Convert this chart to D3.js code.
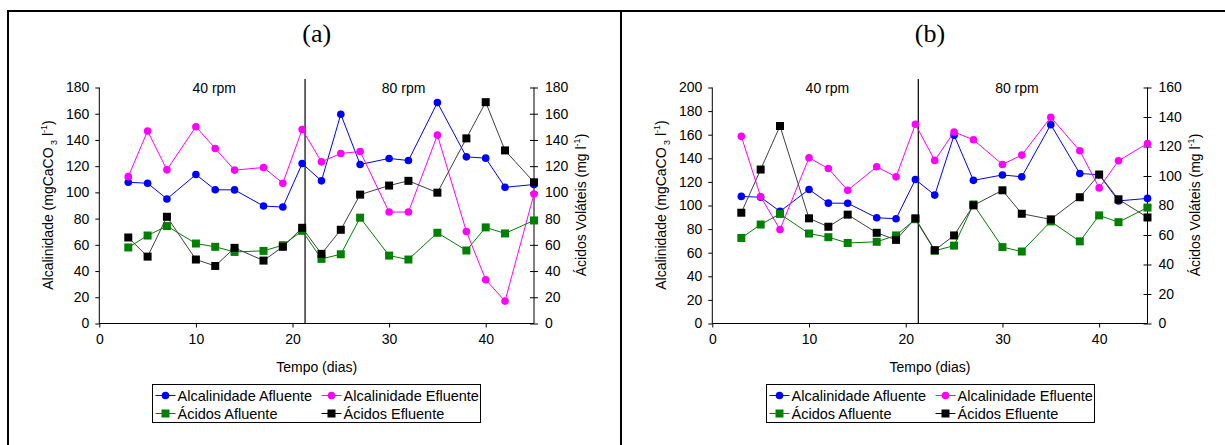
<!DOCTYPE html>
<html>
<head>
<meta charset="utf-8">
<script src="https://cdn.jsdelivr.net/npm/d3@7"></script>
<style>
  body { margin: 0; background: #fff; }
  svg { display: block; font-family: "Liberation Sans", Arial, sans-serif; }
</style>
</head>
<body>
<svg id="chart" width="1225" height="445"></svg>
<script>
// days of sampling
const days = [3, 5, 7, 10, 12, 14, 17, 19, 21, 23, 25, 27, 30, 32, 35, 38, 40, 42, 45]

// influent series, same in both panels
const alcAfluente = [107.7, 107, 95, 113.6, 102, 101.9, 89.6, 88.8, 122, 108.8, 159.6, 121.3, 125.9, 124.3, 168.5, 127.1, 126.1, 103.9, 106]
const acAfluente = [58, 67.1, 74.3, 61, 58.5, 54.6, 55.4, 59.7, 70.7, 49.3, 52.8, 80.7, 51.8, 48.8, 69.2, 55.7, 73.3, 68.7, 78.6]

// effluent series, panel (a)
const alcEfluenteA = [112, 146.8, 117.2, 150.1, 133.5, 117, 119, 107, 148, 123.3, 129.7, 131.2, 85, 85, 143.7, 70.2, 33.4, 17.1, 98.8]
const acEfluenteA = [65.6, 51, 81.4, 48.8, 43.9, 57.7, 48, 58.5, 73, 53.1, 71.5, 98.3, 105.2, 108.8, 99.8, 141.2, 168.8, 132, 107.7]

// effluent series, panel (b)
const alcEfluenteB = [158.6, 107.5, 79.7, 140.4, 131.3, 112.9, 132.8, 124.3, 168.8, 138.2, 162.3, 155.7, 134.8, 142.7, 174.8, 146.4, 114.9, 137.9, 152.6]
const acEfluenteB = [75.1, 104.4, 133.9, 71.3, 65.6, 73.8, 61.5, 56.7, 71.3, 49.7, 59.7, 80.1, 90.3, 74.4, 70.6, 85.6, 101, 84.2, 71.9]

const leftTicksA = [0, 20, 40, 60, 80, 100, 120, 140, 160, 180]
const rightTicksA = [0, 20, 40, 60, 80, 100, 120, 140, 160, 180]
const leftTicksB = [0, 20, 40, 60, 80, 100, 120, 140, 160, 180, 200]
const rightTicksB = [0, 20, 40, 60, 80, 100, 120, 140, 160]
const xTicks = [0, 10, 20, 30, 40]

const phaseChange = 21.3
const legendNames = ["Alcalinidade Afluente", "Alcalinidade Efluente", "Ácidos Afluente", "Ácidos Efluente"]

const svg = d3.select("#chart")

// outer frame (table borders)
svg.append("line").attr("x1", 8).attr("x2", 1225).attr("y1", 11).attr("y2", 11)
  .attr("stroke", "#000").attr("stroke-width", 2)
svg.append("line").attr("x1", 8).attr("x2", 8).attr("y1", 10).attr("y2", 445)
  .attr("stroke", "#000").attr("stroke-width", 2)
svg.append("line").attr("x1", 621).attr("x2", 621).attr("y1", 10).attr("y2", 445)
  .attr("stroke", "#000").attr("stroke-width", 2)

function panel(opts) {
  const g = svg.append("g")
  const x = d3.scaleLinear().domain([0, 45]).range([opts.left, opts.right])
  const yL = d3.scaleLinear().domain([0, opts.leftMax]).range([323.5, 87.5])
  const yR = d3.scaleLinear().domain([0, opts.rightMax]).range([323.5, 87.5])

  g.append("text")
    .attr("x", (opts.left + opts.right) / 2).attr("y", 42)
    .attr("text-anchor", "middle")
    .style("font-family", "'Liberation Serif', 'Times New Roman', serif")
    .style("font-size", "26px")
    .text(opts.title)

  // axes
  const xAxis = g.append("g").attr("transform", "translate(0,323.5)")
    .call(d3.axisBottom(x).tickValues(xTicks).tickSize(4).tickPadding(7))
  const lAxis = g.append("g").attr("transform", `translate(${opts.left},0)`)
    .call(d3.axisLeft(yL).tickValues(opts.leftTicks).tickSize(4).tickPadding(6))
  const rAxis = g.append("g").attr("transform", `translate(${opts.right},0)`)
    .call(d3.axisRight(yR).tickValues(opts.rightTicks).tickSize(4).tickPadding(7))
  rAxis.selectAll(".tick line").attr("x1", -4)
  for (const a of [xAxis, lAxis, rAxis]) {
    a.selectAll("text").style("font-size", "14px").attr("fill", "#000")
      .style("font-family", "'Liberation Sans', Arial, sans-serif")
    a.selectAll("line, path").attr("stroke", "#000")
  }
  xAxis.select(".domain").attr("d", `M${opts.left},0H${opts.right}`)
  lAxis.select(".domain").attr("d", `M0,${yL(0)}V${yL(opts.leftMax)}`)
  rAxis.select(".domain").attr("d", `M0,${yR(0)}V${yR(opts.rightMax)}`)

  // phase separator
  g.append("line")
    .attr("x1", x(phaseChange)).attr("x2", x(phaseChange))
    .attr("y1", 79).attr("y2", 323.5)
    .attr("stroke", "#000").attr("stroke-width", 1.2)

  g.append("text").attr("x", x(opts.rpm1)).attr("y", 93)
    .attr("text-anchor", "middle").style("font-size", "14px").text("40 rpm")
  g.append("text").attr("x", x(opts.rpm2)).attr("y", 93)
    .attr("text-anchor", "middle").style("font-size", "14px").text("80 rpm")

  // axis titles
  g.append("text").attr("x", (opts.left + opts.right) / 2).attr("y", 372)
    .attr("text-anchor", "middle").style("font-size", "14px").text("Tempo (dias)")

  const lt = g.append("text")
    .attr("transform", `translate(${opts.left - 46},205) rotate(-90)`)
    .attr("text-anchor", "middle").style("font-size", "14px")
  lt.append("tspan").text("Alcalinidade (mgCaCO")
  lt.append("tspan").attr("dy", 4).style("font-size", "9px").text(" 3")
  lt.append("tspan").attr("dy", -4).text("   l")
  lt.append("tspan").attr("dy", -6).style("font-size", "9px").text("-1")
  lt.append("tspan").attr("dy", 6).text(")")

  const rt = g.append("text")
    .attr("transform", `translate(${opts.right + 52},205) rotate(-90)`)
    .attr("text-anchor", "middle").style("font-size", "14px")
  rt.append("tspan").text("Ácidos Voláteis (mg l")
  rt.append("tspan").attr("dy", -6).style("font-size", "9px").text("-1")
  rt.append("tspan").attr("dy", 6).text(")")

  const series = [
    { vals: alcAfluente, y: yL, color: "#0000ff", line: "#0000ff", shape: "circle" },
    { vals: opts.alcEfl, y: yL, color: "#ff00ff", line: "#ff00ff", shape: "circle" },
    { vals: acAfluente, y: yR, color: "#008000", line: "#008000", shape: "square" },
    { vals: opts.acEfl, y: yR, color: "#000000", line: "#404040", shape: "square" }
  ]

  for (const s of series) {
    const pts = days.map((d, i) => [d, s.vals[i]])
    g.append("path")
      .attr("d", d3.line().x(p => x(p[0])).y(p => s.y(p[1]))(pts))
      .attr("fill", "none").attr("stroke", s.line).attr("stroke-width", 1)
    drawMarkers(g, pts.map(p => [x(p[0]), s.y(p[1])]), s)
  }

  // legend
  const lg = g.append("g").attr("transform", `translate(${opts.legendX},384.5)`)
  lg.append("rect").attr("width", 328).attr("height", 38)
    .attr("fill", "#fff").attr("stroke", "#000").attr("stroke-width", 1)
  series.forEach((s, i) => {
    const cx = (i % 2) * 166
    const cy = 11 + Math.floor(i / 2) * 18
    lg.append("line").attr("x1", cx + 3).attr("x2", cx + 23).attr("y1", cy).attr("y2", cy)
      .attr("stroke", s.color).attr("stroke-width", 1)
    drawMarkers(lg, [[cx + 13, cy]], s)
    lg.append("text").attr("x", cx + 25).attr("y", cy + 5)
      .style("font-size", "14.5px").text(legendNames[i])
  })
}

function drawMarkers(g, pts, s) {
  if (s.shape === "circle") {
    g.selectAll(null).data(pts).join("circle")
      .attr("cx", p => p[0]).attr("cy", p => p[1]).attr("r", 3.8)
      .attr("fill", s.color)
  } else {
    g.selectAll(null).data(pts).join("rect")
      .attr("x", p => p[0] - 4).attr("y", p => p[1] - 4)
      .attr("width", 8).attr("height", 8)
      .attr("fill", s.color)
  }
}

panel({
  title: "(a)", left: 99.3, right: 534, leftMax: 180, rightMax: 180,
  leftTicks: leftTicksA, rightTicks: rightTicksA,
  alcEfl: alcEfluenteA, acEfl: acEfluenteA,
  rpm1: 11.9, rpm2: 31.5, legendX: 152.5
})
panel({
  title: "(b)", left: 712.3, right: 1147.5, leftMax: 200, rightMax: 160,
  leftTicks: leftTicksB, rightTicks: rightTicksB,
  alcEfl: alcEfluenteB, acEfl: acEfluenteB,
  rpm1: 11.9, rpm2: 31.5, legendX: 766.5
})
</script>
</body>
</html>
